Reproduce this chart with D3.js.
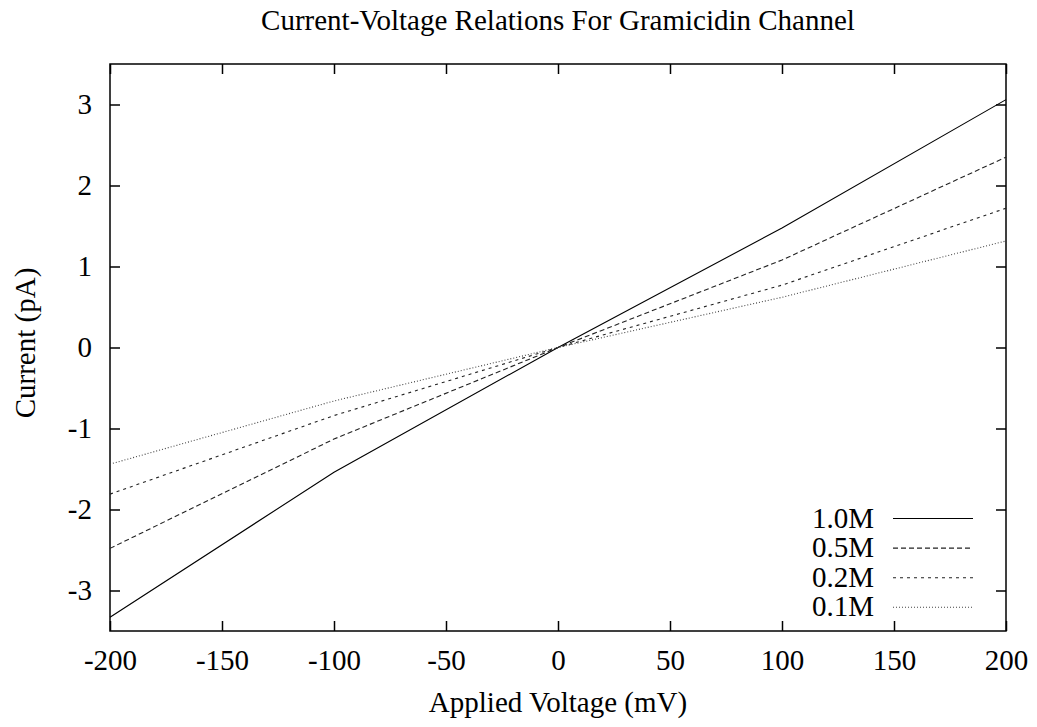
<!DOCTYPE html>
<html>
<head>
<meta charset="utf-8">
<script src="https://cdn.jsdelivr.net/npm/d3@7"></script>
<style>
  body { margin: 0; background: #fff; }
  text { font-family: "Liberation Serif", "Times New Roman", serif; fill: #000; }
</style>
</head>
<body>
<svg id="chart" width="1037" height="727"></svg>
<script>
const voltages = [-200, -100, 0, 100, 200];
const seriesNames = ["1.0M", "0.5M", "0.2M", "0.1M"];
const current10 = [-3.33, -1.54, 0, 1.475, 3.06];
const current05 = [-2.48, -1.13, 0, 1.08, 2.35];
const current02 = [-1.81, -0.84, 0, 0.77, 1.72];
const current01 = [-1.44, -0.66, 0, 0.62, 1.315];
const xTicks = [-200, -150, -100, -50, 0, 50, 100, 150, 200];
const yTicks = [-3, -2, -1, 0, 1, 2, 3];

(function () {
const seriesValues = [current10, current05, current02, current01];
const dashes = [null, "5,3", "3,4", "1,2"];
const strokes = ["#000", "#222", "#222", "#444"];
const fs = 29;

const svg = d3.select("#chart");
const pL = 110, pR = 1006, pT = 64, pB = 631;
const x = d3.scaleLinear().domain([-200, 200]).range([pL, pR]);
const y = d3.scaleLinear().domain([-3.5, 3.5]).range([pB, pT]);
const tickLen = 10;
const fmt = d => String(d);

// frame
svg.append("rect").attr("x", pL).attr("y", pT)
  .attr("width", pR - pL).attr("height", pB - pT)
  .attr("fill", "none").attr("stroke", "#000").attr("stroke-width", 1.5);

// axes with inward ticks
const gB = svg.append("g").attr("transform", `translate(0,${pB})`)
  .call(d3.axisBottom(x).tickValues(xTicks).tickSizeInner(-tickLen).tickSizeOuter(0).tickPadding(18).tickFormat(fmt));
const gT = svg.append("g").attr("transform", `translate(0,${pT})`)
  .call(d3.axisTop(x).tickValues(xTicks).tickSizeInner(-tickLen).tickSizeOuter(0).tickFormat(""));
const gL = svg.append("g").attr("transform", `translate(${pL},0)`)
  .call(d3.axisLeft(y).tickValues(yTicks).tickSizeInner(-tickLen).tickSizeOuter(0).tickPadding(18).tickFormat(fmt));
const gR = svg.append("g").attr("transform", `translate(${pR},0)`)
  .call(d3.axisRight(y).tickValues(yTicks).tickSizeInner(-tickLen).tickSizeOuter(0).tickFormat(""));
[gB, gT, gL, gR].forEach(g => {
  g.select(".domain").remove();
  g.selectAll(".tick line").attr("stroke", "#000").attr("stroke-width", 1.5);
  g.selectAll("text").attr("font-size", fs).style("font-family", '"Liberation Serif", serif').attr("fill", "#000");
});
gB.selectAll("text").attr("dy", "0.71em");

// lines
const line = d3.line().x((d, i) => x(voltages[i])).y(d => y(d));
seriesValues.forEach((vals, k) => {
  svg.append("path").datum(vals)
    .attr("d", line)
    .attr("fill", "none")
    .attr("stroke", strokes[k])
    .attr("stroke-width", 1.1)
    .attr("stroke-dasharray", dashes[k]);
});

// legend
const legY0 = 518.5, legStep = 29.6;
seriesNames.forEach((name, k) => {
  const yy = legY0 + k * legStep;
  svg.append("text").attr("x", 874).attr("y", yy + 9)
    .attr("text-anchor", "end").attr("font-size", fs).text(name);
  svg.append("line").attr("x1", 893).attr("x2", 973).attr("y1", yy).attr("y2", yy)
    .attr("stroke", strokes[k]).attr("stroke-width", 1.1).attr("stroke-dasharray", dashes[k]);
});

// titles
svg.append("text").attr("x", 558).attr("y", 30).attr("text-anchor", "middle")
  .attr("font-size", fs).text("Current-Voltage Relations For Gramicidin Channel");
svg.append("text").attr("x", 558).attr("y", 712).attr("text-anchor", "middle")
  .attr("font-size", fs).text("Applied Voltage (mV)");
svg.append("text").attr("transform", "translate(35,343) rotate(-90)")
  .attr("text-anchor", "middle").attr("font-size", fs).text("Current (pA)");
})();
</script>
</body>
</html>
